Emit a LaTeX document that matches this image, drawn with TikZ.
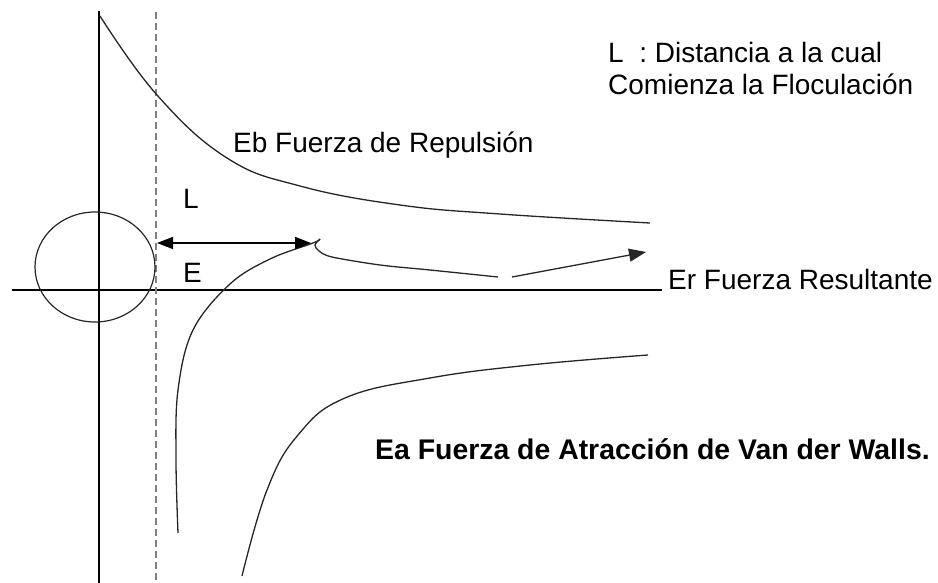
\documentclass[tikz,border=0pt]{standalone}
\usepackage{fontspec}
\setmainfont{Liberation Sans}
\usetikzlibrary{arrows.meta}
\tikzset{
  curve/.style={line width=1.3pt, black!85},
  axis/.style={line width=1.4pt, black},
  lbl/.style={anchor=base west, inner sep=0pt, font=\fontsize{28}{30}\selectfont},
  tip/.style={-{Triangle[length=17pt,width=13pt]}},
  dtip/.style={{Triangle[length=16pt,width=12pt]}-{Triangle[length=16pt,width=12pt]}},
}
\begin{document}
\begin{tikzpicture}[x=1pt,y=-1pt]
\useasboundingbox (0,0) rectangle (938,583);
% axes
\coordinate (vt) at (99,11);
\coordinate (vb) at (99,583);
\coordinate (hl) at (12,290);
\coordinate (hr) at (662,290);
\draw[axis] (vt) -- (vb);
\draw[axis] (hl) -- (hr);
% dashed line
\coordinate (dt) at (156,12);
\coordinate (db) at (156,583);
\draw[gray, line width=1.5pt, dash pattern=on 7pt off 4pt] (dt) -- (db);
% particle
\coordinate (pc) at (95,267);
\draw[line width=1.2pt, black!85] (pc) ellipse [x radius=60, y radius=55];
% repulsion curve
\draw[curve] plot[smooth, tension=0.7] coordinates {(100,16) (157,95) (227,158) (300,186) (400,205) (500,214) (650,223)};
% attraction curve
\draw[curve] plot[smooth, tension=0.7] coordinates {(242,576) (267,490) (298,435) (345,398) (430,378) (530,365) (648,355)};
% resultant curve
\draw[curve] plot[smooth, tension=0.6] coordinates {(178,533) (176,460) (178,390) (193,330) (230,284) (270,259) (313,243) (320,239)};
\draw[curve] plot[smooth, tension=0.5] coordinates {(320,239) (315,245) (319,251) (332,257) (380,265) (430,270) (498,277)};
\coordinate (ra) at (512,277);
\coordinate (rb) at (646,252);
\draw[curve, tip] (ra) -- (rb);
% L distance arrow
\coordinate (la) at (157,243);
\coordinate (lb) at (311,243);
\draw[line width=1.4pt, dtip] (la) -- (lb);
% labels
\node[lbl] (tL) at (183,208) {L};
\node[lbl] (tE) at (183,282) {E};
\node[lbl] (tEb) at (233,153) {Eb Fuerza de Repulsión};
\node[lbl] (tEr) at (668,289) {Er Fuerza Resultante};
\node[lbl] (tD1) at (608,63) {L\ \ : Distancia a la cual};
\node[lbl] (tD2) at (608,95) {Comienza la Floculación};
\node[lbl, font=\fontsize{28.4}{30}\selectfont\bfseries] (tEa) at (375,459) {Ea Fuerza de Atracción de Van der Walls.};
\end{tikzpicture}
\end{document}
